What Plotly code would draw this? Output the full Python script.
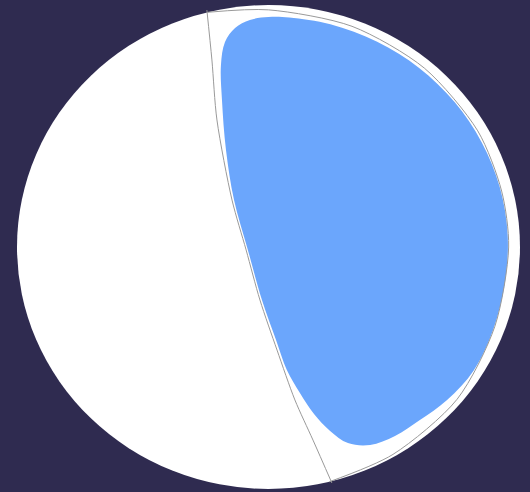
"""Focal mechanism beachball: one shaded quadrant between two nodal planes."""

import plotly.graph_objects as go

# Blue (compressional) region outline, unit-disk coords
# (starts mid-way down the straight left edge so the path closure is hidden)
blue_x = [-0.082, -0.137, -0.169, -0.185, -0.189, -0.173, -0.133, -0.074, 0.000,
          0.083, 0.246, 0.432, 0.599, 0.740, 0.848, 0.920, 0.951, 0.940, 0.893,
          0.816, 0.710, 0.602, 0.503, 0.404, 0.316, 0.245, 0.181, 0.125, 0.073,
          0.030, -0.026, -0.082]
blue_y = [-0.012, 0.194, 0.401, 0.607, 0.752, 0.847, 0.905, 0.938, 0.950,
          0.948, 0.920, 0.848, 0.740, 0.599, 0.432, 0.246, 0.050, -0.149, -0.343,
          -0.510, -0.632, -0.715, -0.781, -0.818, -0.810, -0.760, -0.690, -0.603, -0.508,
          -0.384, -0.219, -0.012]

# Nodal plane 1 (steep, near-straight line)
plane1_x = [-0.245, -0.225, -0.205, -0.145, -0.089, -0.034, 0.034, 0.105, 0.177, 0.252]
plane1_y = [0.979, 0.773, 0.525, 0.194, -0.012, -0.219, -0.426, -0.632, -0.798, -0.975]

# Nodal plane 2 (shallow, hugs the primitive circle)
plane2_x = [-0.242, 0.0, 0.332, 0.620, 0.832, 0.927, 0.955, 0.900, 0.750, 0.495, 0.242]
plane2_y = [0.970, 0.980, 0.912, 0.739, 0.480, 0.231, 0.0, -0.328, -0.629, -0.857, -0.970]

BG = '#2f2b50'
BLUE = '#6ba6fc'
LINE = '#9a9a9a'

fig = go.Figure()

fig.add_trace(go.Scatter(
    x=blue_x, y=blue_y,
    mode='lines',
    fill='toself',
    fillcolor=BLUE,
    line=dict(color=BLUE, width=0, shape='spline', smoothing=1.0),
    hoverinfo='skip',
))

for px, py in [(plane1_x, plane1_y), (plane2_x, plane2_y)]:
    fig.add_trace(go.Scatter(
        x=px, y=py,
        mode='lines',
        line=dict(color=LINE, width=1, shape='spline', smoothing=0.8),
        hoverinfo='skip',
    ))

# Primitive circle (stereonet boundary)
fig.add_shape(
    type='circle', xref='x', yref='y',
    x0=-1, y0=-1, x1=1, y1=1,
    fillcolor='white',
    line=dict(width=0),
    layer='below',
)

fig.update_layout(
    width=530, height=492,
    margin=dict(l=0, r=0, t=0, b=0),
    paper_bgcolor=BG,
    plot_bgcolor=BG,
    showlegend=False,
    xaxis=dict(range=[-1.0676, 1.0398], visible=False, fixedrange=True),
    yaxis=dict(range=[-1.0124, 1.0207], visible=False, fixedrange=True),
)

fig.write_html(
    "out.html",
    config={'displayModeBar': False},
    post_script="document.body.style.margin='0';",
)
